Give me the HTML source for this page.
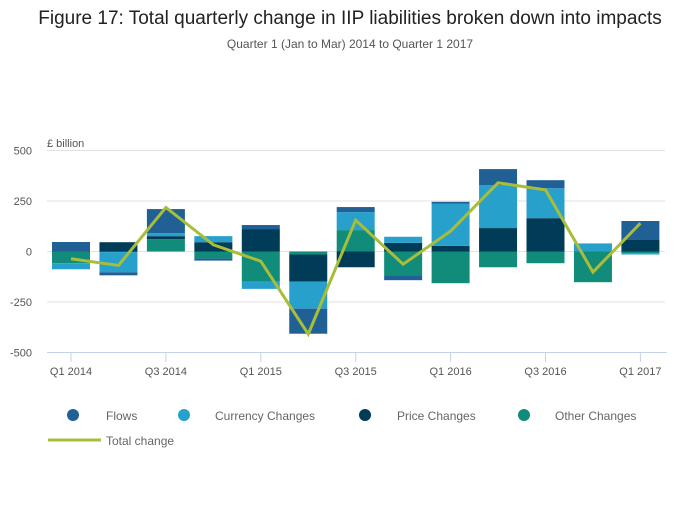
<!DOCTYPE html>
<html><head><meta charset="utf-8"><style>
body{margin:0;background:#fff;font-family:"Liberation Sans",sans-serif;}
svg text{font-family:"Liberation Sans",sans-serif;}
</style></head><body>
<svg id="chart" width="700" height="502" viewBox="0 0 700 502">
<text x="350" y="24" text-anchor="middle" font-size="19" fill="#222">Figure 17: Total quarterly change in IIP liabilities broken down into impacts</text>
<text x="350" y="48" text-anchor="middle" font-size="12" fill="#555">Quarter 1 (Jan to Mar) 2014 to Quarter 1 2017</text>
<text x="47" y="147" font-size="11" fill="#555">£ billion</text>
<g id="grid"></g><g id="bars"></g><g id="line"></g><g id="xaxis"></g>
<g>
<circle cx="73" cy="415" r="6" fill="#206095"/>
<text x="106" y="420" font-size="12" fill="#666">Flows</text>
<circle cx="184" cy="415" r="6" fill="#27a0cc"/>
<text x="215" y="420" font-size="12" fill="#666">Currency Changes</text>
<circle cx="365" cy="415" r="6" fill="#003c57"/>
<text x="397" y="420" font-size="12" fill="#666">Price Changes</text>
<circle cx="524" cy="415" r="6" fill="#118c7b"/>
<text x="555" y="420" font-size="12" fill="#666">Other Changes</text>
<line x1="48" y1="440" x2="101" y2="440" stroke="#a8bd3a" stroke-width="3"/>
<text x="106" y="445" font-size="12" fill="#666">Total change</text>
</g>
</svg>
<script>
const categories=["Q1 2014","Q2 2014","Q3 2014","Q4 2014","Q1 2015","Q2 2015","Q3 2015","Q4 2015","Q1 2016","Q2 2016","Q3 2016","Q4 2016","Q1 2017"];
const flows=[45,-15,119,-10,20,-124,25,-25,10,79,40,0,94];
const currency=[-30,-100,15,30,-35,-134,89,30,208,213,148,40,-7];
const price=[2,46,15,46,111,-134,-78,43,28,116,165,0,57];
const other=[-58,-3,61,-35,-150,-15,106,-117,-157,-78,-58,-152,-8];
const total=[-36,-69,218,33,-48,-409,155,-63,101,340,305,-102,140];
const yTicks=[500,250,0,-250,-500];
const NS="http://www.w3.org/2000/svg";
function y(v){return 251.5-v*0.202;}
function x(i){return 71+i*47.45;}
const bw=38;
function mk(tag,attrs,parent){const e=document.createElementNS(NS,tag);for(const k in attrs)e.setAttribute(k,attrs[k]);parent.appendChild(e);return e;}
const grid=document.getElementById('grid');
yTicks.forEach(t=>{
  if(t!==-500){const l=mk('line',{x1:47,x2:665,y1:y(t),y2:y(t),stroke:'#e2e2e2','stroke-width':1},grid);
  
  }
  const tx=mk('text',{x:32,y:y(t)+4,'text-anchor':'end','font-size':11,fill:'#555'},grid);
  tx.textContent=t;
  
  
});
const bars=document.getElementById('bars');
const series=[["flows",flows,"#206095"],["currency",currency,"#27a0cc"],["price",price,"#003c57"],["other",other,"#118c7b"]];
const order=["other","price","currency","flows"];
categories.forEach((c,i)=>{
  let pos=0,neg=0;
  order.forEach(n=>{
    const s=series.find(q=>q[0]===n);const v=s[1][i];
    if(v===0)return;
    let a,b;
    if(v>0){a=pos;b=pos+v;pos=b;}else{a=neg;b=neg+v;neg=b;}
    const r=mk('rect',{x:x(i)-bw/2,y:Math.min(y(a),y(b)),width:bw,height:Math.abs(y(a)-y(b)),fill:s[2]},bars);
    
    
  });
});
const line=document.getElementById('line');
const p=mk('polyline',{points:total.map((v,i)=>x(i)+','+y(v)).join(' '),fill:'none',stroke:'#a8bd3a','stroke-width':3},line);


const xa=document.getElementById('xaxis');
const al=mk('line',{x1:47,x2:667,y1:352.5,y2:352.5,stroke:'#c5d3e8','stroke-width':1},xa);


categories.forEach((c,i)=>{
  if(i%2)return;
  const t=mk('line',{x1:x(i),x2:x(i),y1:352.5,y2:362,stroke:'#c5d3e8','stroke-width':1},xa);
  
  
  const tx=mk('text',{x:x(i),y:375,'text-anchor':'middle','font-size':11,fill:'#555'},xa);
  tx.textContent=c;
  
  
});
</script>
</body></html>
